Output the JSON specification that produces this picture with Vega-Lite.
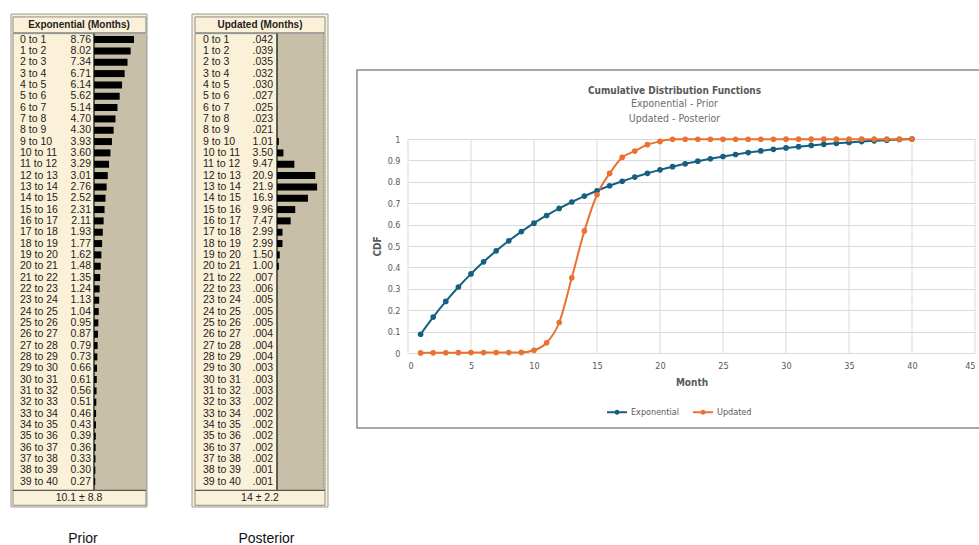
{
  "$schema": "https://vega.github.io/schema/vega-lite/v6.json",
  "background": "white",
  "padding": {"left": 10, "top": 9, "right": 0, "bottom": 0},
  "bounds": "flush",
  "spacing": 45,
  "resolve": {"scale": {"x": "independent", "y": "independent", "color": "independent"}, "axis": {"x": "independent", "y": "independent"}},
  "config": {"font": "Liberation Sans", "axis": {"grid": false}, "view": {"stroke": null}},
  "datasets": {
    "prior": [
      {"i": 0, "label": "0 to 1", "val": "8.76", "v": 8.76},
      {"i": 1, "label": "1 to 2", "val": "8.02", "v": 8.02},
      {"i": 2, "label": "2 to 3", "val": "7.34", "v": 7.34},
      {"i": 3, "label": "3 to 4", "val": "6.71", "v": 6.71},
      {"i": 4, "label": "4 to 5", "val": "6.14", "v": 6.14},
      {"i": 5, "label": "5 to 6", "val": "5.62", "v": 5.62},
      {"i": 6, "label": "6 to 7", "val": "5.14", "v": 5.14},
      {"i": 7, "label": "7 to 8", "val": "4.70", "v": 4.70},
      {"i": 8, "label": "8 to 9", "val": "4.30", "v": 4.30},
      {"i": 9, "label": "9 to 10", "val": "3.93", "v": 3.93},
      {"i": 10, "label": "10 to 11", "val": "3.60", "v": 3.60},
      {"i": 11, "label": "11 to 12", "val": "3.29", "v": 3.29},
      {"i": 12, "label": "12 to 13", "val": "3.01", "v": 3.01},
      {"i": 13, "label": "13 to 14", "val": "2.76", "v": 2.76},
      {"i": 14, "label": "14 to 15", "val": "2.52", "v": 2.52},
      {"i": 15, "label": "15 to 16", "val": "2.31", "v": 2.31},
      {"i": 16, "label": "16 to 17", "val": "2.11", "v": 2.11},
      {"i": 17, "label": "17 to 18", "val": "1.93", "v": 1.93},
      {"i": 18, "label": "18 to 19", "val": "1.77", "v": 1.77},
      {"i": 19, "label": "19 to 20", "val": "1.62", "v": 1.62},
      {"i": 20, "label": "20 to 21", "val": "1.48", "v": 1.48},
      {"i": 21, "label": "21 to 22", "val": "1.35", "v": 1.35},
      {"i": 22, "label": "22 to 23", "val": "1.24", "v": 1.24},
      {"i": 23, "label": "23 to 24", "val": "1.13", "v": 1.13},
      {"i": 24, "label": "24 to 25", "val": "1.04", "v": 1.04},
      {"i": 25, "label": "25 to 26", "val": "0.95", "v": 0.95},
      {"i": 26, "label": "26 to 27", "val": "0.87", "v": 0.87},
      {"i": 27, "label": "27 to 28", "val": "0.79", "v": 0.79},
      {"i": 28, "label": "28 to 29", "val": "0.73", "v": 0.73},
      {"i": 29, "label": "29 to 30", "val": "0.66", "v": 0.66},
      {"i": 30, "label": "30 to 31", "val": "0.61", "v": 0.61},
      {"i": 31, "label": "31 to 32", "val": "0.56", "v": 0.56},
      {"i": 32, "label": "32 to 33", "val": "0.51", "v": 0.51},
      {"i": 33, "label": "33 to 34", "val": "0.46", "v": 0.46},
      {"i": 34, "label": "34 to 35", "val": "0.43", "v": 0.43},
      {"i": 35, "label": "35 to 36", "val": "0.39", "v": 0.39},
      {"i": 36, "label": "36 to 37", "val": "0.36", "v": 0.36},
      {"i": 37, "label": "37 to 38", "val": "0.33", "v": 0.33},
      {"i": 38, "label": "38 to 39", "val": "0.30", "v": 0.30},
      {"i": 39, "label": "39 to 40", "val": "0.27", "v": 0.27}
    ],
    "post": [
      {"i": 0, "label": "0 to 1", "val": ".042", "v": 0.042},
      {"i": 1, "label": "1 to 2", "val": ".039", "v": 0.039},
      {"i": 2, "label": "2 to 3", "val": ".035", "v": 0.035},
      {"i": 3, "label": "3 to 4", "val": ".032", "v": 0.032},
      {"i": 4, "label": "4 to 5", "val": ".030", "v": 0.030},
      {"i": 5, "label": "5 to 6", "val": ".027", "v": 0.027},
      {"i": 6, "label": "6 to 7", "val": ".025", "v": 0.025},
      {"i": 7, "label": "7 to 8", "val": ".023", "v": 0.023},
      {"i": 8, "label": "8 to 9", "val": ".021", "v": 0.021},
      {"i": 9, "label": "9 to 10", "val": "1.01", "v": 1.01},
      {"i": 10, "label": "10 to 11", "val": "3.50", "v": 3.50},
      {"i": 11, "label": "11 to 12", "val": "9.47", "v": 9.47},
      {"i": 12, "label": "12 to 13", "val": "20.9", "v": 20.9},
      {"i": 13, "label": "13 to 14", "val": "21.9", "v": 21.9},
      {"i": 14, "label": "14 to 15", "val": "16.9", "v": 16.9},
      {"i": 15, "label": "15 to 16", "val": "9.96", "v": 9.96},
      {"i": 16, "label": "16 to 17", "val": "7.47", "v": 7.47},
      {"i": 17, "label": "17 to 18", "val": "2.99", "v": 2.99},
      {"i": 18, "label": "18 to 19", "val": "2.99", "v": 2.99},
      {"i": 19, "label": "19 to 20", "val": "1.50", "v": 1.50},
      {"i": 20, "label": "20 to 21", "val": "1.00", "v": 1.00},
      {"i": 21, "label": "21 to 22", "val": ".007", "v": 0.007},
      {"i": 22, "label": "22 to 23", "val": ".006", "v": 0.006},
      {"i": 23, "label": "23 to 24", "val": ".005", "v": 0.005},
      {"i": 24, "label": "24 to 25", "val": ".005", "v": 0.005},
      {"i": 25, "label": "25 to 26", "val": ".005", "v": 0.005},
      {"i": 26, "label": "26 to 27", "val": ".004", "v": 0.004},
      {"i": 27, "label": "27 to 28", "val": ".004", "v": 0.004},
      {"i": 28, "label": "28 to 29", "val": ".004", "v": 0.004},
      {"i": 29, "label": "29 to 30", "val": ".003", "v": 0.003},
      {"i": 30, "label": "30 to 31", "val": ".003", "v": 0.003},
      {"i": 31, "label": "31 to 32", "val": ".003", "v": 0.003},
      {"i": 32, "label": "32 to 33", "val": ".002", "v": 0.002},
      {"i": 33, "label": "33 to 34", "val": ".002", "v": 0.002},
      {"i": 34, "label": "34 to 35", "val": ".002", "v": 0.002},
      {"i": 35, "label": "35 to 36", "val": ".002", "v": 0.002},
      {"i": 36, "label": "36 to 37", "val": ".002", "v": 0.002},
      {"i": 37, "label": "37 to 38", "val": ".002", "v": 0.002},
      {"i": 38, "label": "38 to 39", "val": ".001", "v": 0.001},
      {"i": 39, "label": "39 to 40", "val": ".001", "v": 0.001}
    ],
    "grid": [{"m": 0}, {"m": 5}, {"m": 10}, {"m": 15}, {"m": 20}, {"m": 25}, {"m": 30}, {"m": 35}, {"m": 40}, {"m": 45}],
    "cdf": [
      {"month": 1, "series": "Exponential", "cdf": 0.0876},
      {"month": 2, "series": "Exponential", "cdf": 0.1678},
      {"month": 3, "series": "Exponential", "cdf": 0.2412},
      {"month": 4, "series": "Exponential", "cdf": 0.3083},
      {"month": 5, "series": "Exponential", "cdf": 0.3697},
      {"month": 6, "series": "Exponential", "cdf": 0.4259},
      {"month": 7, "series": "Exponential", "cdf": 0.4773},
      {"month": 8, "series": "Exponential", "cdf": 0.5243},
      {"month": 9, "series": "Exponential", "cdf": 0.5673},
      {"month": 10, "series": "Exponential", "cdf": 0.6066},
      {"month": 11, "series": "Exponential", "cdf": 0.6426},
      {"month": 12, "series": "Exponential", "cdf": 0.6755},
      {"month": 13, "series": "Exponential", "cdf": 0.7056},
      {"month": 14, "series": "Exponential", "cdf": 0.7332},
      {"month": 15, "series": "Exponential", "cdf": 0.7584},
      {"month": 16, "series": "Exponential", "cdf": 0.7815},
      {"month": 17, "series": "Exponential", "cdf": 0.8026},
      {"month": 18, "series": "Exponential", "cdf": 0.8219},
      {"month": 19, "series": "Exponential", "cdf": 0.8396},
      {"month": 20, "series": "Exponential", "cdf": 0.8558},
      {"month": 21, "series": "Exponential", "cdf": 0.8706},
      {"month": 22, "series": "Exponential", "cdf": 0.8841},
      {"month": 23, "series": "Exponential", "cdf": 0.8965},
      {"month": 24, "series": "Exponential", "cdf": 0.9078},
      {"month": 25, "series": "Exponential", "cdf": 0.9182},
      {"month": 26, "series": "Exponential", "cdf": 0.9277},
      {"month": 27, "series": "Exponential", "cdf": 0.9364},
      {"month": 28, "series": "Exponential", "cdf": 0.9443},
      {"month": 29, "series": "Exponential", "cdf": 0.9516},
      {"month": 30, "series": "Exponential", "cdf": 0.9582},
      {"month": 31, "series": "Exponential", "cdf": 0.9643},
      {"month": 32, "series": "Exponential", "cdf": 0.9699},
      {"month": 33, "series": "Exponential", "cdf": 0.9750},
      {"month": 34, "series": "Exponential", "cdf": 0.9796},
      {"month": 35, "series": "Exponential", "cdf": 0.9839},
      {"month": 36, "series": "Exponential", "cdf": 0.9878},
      {"month": 37, "series": "Exponential", "cdf": 0.9914},
      {"month": 38, "series": "Exponential", "cdf": 0.9947},
      {"month": 39, "series": "Exponential", "cdf": 0.9977},
      {"month": 40, "series": "Exponential", "cdf": 1.0},
      {"month": 1, "series": "Updated", "cdf": 0.0004},
      {"month": 2, "series": "Updated", "cdf": 0.0008},
      {"month": 3, "series": "Updated", "cdf": 0.0012},
      {"month": 4, "series": "Updated", "cdf": 0.0015},
      {"month": 5, "series": "Updated", "cdf": 0.0018},
      {"month": 6, "series": "Updated", "cdf": 0.0021},
      {"month": 7, "series": "Updated", "cdf": 0.0023},
      {"month": 8, "series": "Updated", "cdf": 0.0025},
      {"month": 9, "series": "Updated", "cdf": 0.0027},
      {"month": 10, "series": "Updated", "cdf": 0.0128},
      {"month": 11, "series": "Updated", "cdf": 0.0478},
      {"month": 12, "series": "Updated", "cdf": 0.1425},
      {"month": 13, "series": "Updated", "cdf": 0.3515},
      {"month": 14, "series": "Updated", "cdf": 0.5705},
      {"month": 15, "series": "Updated", "cdf": 0.7395},
      {"month": 16, "series": "Updated", "cdf": 0.8391},
      {"month": 17, "series": "Updated", "cdf": 0.9138},
      {"month": 18, "series": "Updated", "cdf": 0.9437},
      {"month": 19, "series": "Updated", "cdf": 0.9736},
      {"month": 20, "series": "Updated", "cdf": 0.9886},
      {"month": 21, "series": "Updated", "cdf": 0.9986},
      {"month": 22, "series": "Updated", "cdf": 0.9987},
      {"month": 23, "series": "Updated", "cdf": 0.9988},
      {"month": 24, "series": "Updated", "cdf": 0.9988},
      {"month": 25, "series": "Updated", "cdf": 0.9989},
      {"month": 26, "series": "Updated", "cdf": 0.9989},
      {"month": 27, "series": "Updated", "cdf": 0.9990},
      {"month": 28, "series": "Updated", "cdf": 0.9990},
      {"month": 29, "series": "Updated", "cdf": 0.9990},
      {"month": 30, "series": "Updated", "cdf": 0.9991},
      {"month": 31, "series": "Updated", "cdf": 0.9991},
      {"month": 32, "series": "Updated", "cdf": 0.9991},
      {"month": 33, "series": "Updated", "cdf": 0.9992},
      {"month": 34, "series": "Updated", "cdf": 0.9992},
      {"month": 35, "series": "Updated", "cdf": 0.9992},
      {"month": 36, "series": "Updated", "cdf": 0.9992},
      {"month": 37, "series": "Updated", "cdf": 0.9992},
      {"month": 38, "series": "Updated", "cdf": 0.9993},
      {"month": 39, "series": "Updated", "cdf": 0.9993},
      {"month": 40, "series": "Updated", "cdf": 0.9993}
    ]
  },
  "hconcat": [
    {
      "width": 136,
      "height": 503,
      "data": {"name": "prior"},
      "title": {"text": "Prior", "orient": "bottom", "anchor": "middle", "frame": "group", "offset": 20, "dx": 4, "font": "Liberation Sans", "fontSize": 14, "fontWeight": "normal", "color": "#111111"},
      "layer": [
        {
          "data": {"values": [{}]},
          "mark": {"type": "rect", "fill": "#FBF1D8", "stroke": "#9a9a9a", "strokeWidth": 1},
          "encoding": {
            "x": {"datum": -18.16, "type": "quantitative", "scale": {"domain": [-18.16, 11.6], "nice": false, "zero": false}, "axis": null},
            "x2": {"datum": 11.6},
            "y": {"datum": -2.26, "type": "quantitative", "scale": {"domain": [-2.26, 41.25], "nice": false, "zero": false, "reverse": true}, "axis": null},
            "y2": {"datum": 41.25}
          }
        },
        {
          "data": {"values": [{}]},
          "mark": {"type": "rect", "fill": "#FBF1D8", "stroke": "#8c8c8c", "strokeWidth": 1},
          "encoding": {
            "x": {"datum": -17.72, "type": "quantitative", "scale": {"domain": [-18.16, 11.6], "nice": false, "zero": false}, "axis": null},
            "x2": {"datum": 11.38},
            "y": {"datum": -0.53, "type": "quantitative", "scale": {"domain": [-2.26, 41.25], "nice": false, "zero": false, "reverse": true}, "axis": null},
            "y2": {"datum": 41.1}
          }
        },
        {
          "data": {"values": [{}]},
          "mark": {"type": "rect", "fill": "#C8BFA8"},
          "encoding": {
            "x": {"datum": 0, "type": "quantitative", "scale": {"domain": [-18.16, 11.6], "nice": false, "zero": false}, "axis": null},
            "x2": {"datum": 11.38},
            "y": {"datum": -0.53, "type": "quantitative", "scale": {"domain": [-2.26, 41.25], "nice": false, "zero": false, "reverse": true}, "axis": null},
            "y2": {"datum": 39.78}
          }
        },
        {
          "data": {"values": [{}]},
          "mark": {"type": "rect", "fill": "#FBF1D8", "stroke": "#8c8c8c", "strokeWidth": 1},
          "encoding": {
            "x": {"datum": -17.72, "type": "quantitative", "scale": {"domain": [-18.16, 11.6], "nice": false, "zero": false}, "axis": null},
            "x2": {"datum": 11.38},
            "y": {"datum": -2.0, "type": "quantitative", "scale": {"domain": [-2.26, 41.25], "nice": false, "zero": false, "reverse": true}, "axis": null},
            "y2": {"datum": -0.61}
          }
        },
        {
          "data": {"values": [{}]},
          "mark": {"type": "rule", "color": "#333333", "strokeWidth": 1.5},
          "encoding": {
            "x": {"datum": 0, "type": "quantitative", "scale": {"domain": [-18.16, 11.6], "nice": false, "zero": false}, "axis": null},
            "y": {"datum": -0.53, "type": "quantitative", "scale": {"domain": [-2.26, 41.25], "nice": false, "zero": false, "reverse": true}, "axis": null},
            "y2": {"datum": 39.78}
          }
        },
        {
          "data": {"values": [{}]},
          "mark": {"type": "rule", "color": "#555555", "strokeWidth": 1.2},
          "encoding": {
            "x": {"datum": -17.72, "type": "quantitative", "scale": {"domain": [-18.16, 11.6], "nice": false, "zero": false}, "axis": null},
            "x2": {"datum": 11.38},
            "y": {"datum": 39.78, "type": "quantitative", "scale": {"domain": [-2.26, 41.25], "nice": false, "zero": false, "reverse": true}, "axis": null}
          }
        },
        {
          "data": {"values": [{}]},
          "mark": {"type": "text", "text": "Exponential (Months)", "fontWeight": "bold", "fontSize": 10, "color": "#222222", "align": "center", "baseline": "middle"},
          "encoding": {
            "x": {"datum": -3.28, "type": "quantitative", "scale": {"domain": [-18.16, 11.6], "nice": false, "zero": false}, "axis": null},
            "y": {"datum": -1.3, "type": "quantitative", "scale": {"domain": [-2.26, 41.25], "nice": false, "zero": false, "reverse": true}, "axis": null}
          }
        },
        {
          "data": {"values": [{}]},
          "mark": {"type": "text", "text": "10.1 ± 8.8", "fontSize": 10.5, "color": "#222222", "align": "center", "baseline": "middle"},
          "encoding": {
            "x": {"datum": -3.28, "type": "quantitative", "scale": {"domain": [-18.16, 11.6], "nice": false, "zero": false}, "axis": null},
            "y": {"datum": 40.47, "type": "quantitative", "scale": {"domain": [-2.26, 41.25], "nice": false, "zero": false, "reverse": true}, "axis": null}
          }
        },
        {
          "mark": {"type": "bar", "orient": "horizontal", "size": 7, "color": "#000000"},
          "encoding": {
            "x": {"field": "v", "type": "quantitative", "scale": {"domain": [-18.16, 11.6], "nice": false, "zero": false}, "axis": null},
            "x2": {"datum": 0},
            "y": {"field": "i", "type": "quantitative", "scale": {"domain": [-2.26, 41.25], "nice": false, "zero": false, "reverse": true}, "axis": null}
          }
        },
        {
          "mark": {"type": "text", "align": "left", "baseline": "middle", "fontSize": 10.5, "color": "#222222"},
          "encoding": {
            "x": {"datum": -16.19, "type": "quantitative", "scale": {"domain": [-18.16, 11.6], "nice": false, "zero": false}, "axis": null},
            "y": {"field": "i", "type": "quantitative", "scale": {"domain": [-2.26, 41.25], "nice": false, "zero": false, "reverse": true}, "axis": null},
            "text": {"field": "label"}
          }
        },
        {
          "mark": {"type": "text", "align": "right", "baseline": "middle", "fontSize": 10.5, "color": "#222222"},
          "encoding": {
            "x": {"datum": -0.66, "type": "quantitative", "scale": {"domain": [-18.16, 11.6], "nice": false, "zero": false}, "axis": null},
            "y": {"field": "i", "type": "quantitative", "scale": {"domain": [-2.26, 41.25], "nice": false, "zero": false, "reverse": true}, "axis": null},
            "text": {"field": "val"}
          }
        }
      ]
    },
    {
      "width": 171,
      "height": 503,
      "data": {"name": "post"},
      "title": {"text": "Posterior", "orient": "bottom", "anchor": "middle", "frame": "group", "offset": 20, "dx": -11, "font": "Liberation Sans", "fontSize": 14, "fontWeight": "normal", "color": "#111111"},
      "layer": [
        {
          "data": {"values": [{}]},
          "mark": {"type": "rect", "fill": "#FBF1D8", "stroke": "#9a9a9a", "strokeWidth": 1},
          "encoding": {
            "x": {"datum": -46.45, "type": "quantitative", "scale": {"domain": [-46.45, 46.99], "nice": false, "zero": false}, "axis": null},
            "x2": {"datum": 27.87},
            "y": {"datum": -2.26, "type": "quantitative", "scale": {"domain": [-2.26, 41.25], "nice": false, "zero": false, "reverse": true}, "axis": null},
            "y2": {"datum": 41.25}
          }
        },
        {
          "data": {"values": [{}]},
          "mark": {"type": "rect", "fill": "#FBF1D8", "stroke": "#8c8c8c", "strokeWidth": 1},
          "encoding": {
            "x": {"datum": -44.81, "type": "quantitative", "scale": {"domain": [-46.45, 46.99], "nice": false, "zero": false}, "axis": null},
            "x2": {"datum": 26.23},
            "y": {"datum": -0.53, "type": "quantitative", "scale": {"domain": [-2.26, 41.25], "nice": false, "zero": false, "reverse": true}, "axis": null},
            "y2": {"datum": 41.1}
          }
        },
        {
          "data": {"values": [{}]},
          "mark": {"type": "rect", "fill": "#C8BFA8"},
          "encoding": {
            "x": {"datum": 0, "type": "quantitative", "scale": {"domain": [-46.45, 46.99], "nice": false, "zero": false}, "axis": null},
            "x2": {"datum": 26.23},
            "y": {"datum": -0.53, "type": "quantitative", "scale": {"domain": [-2.26, 41.25], "nice": false, "zero": false, "reverse": true}, "axis": null},
            "y2": {"datum": 39.78}
          }
        },
        {
          "data": {"values": [{}]},
          "mark": {"type": "rule", "color": "#777777", "strokeWidth": 1, "strokeDash": [1, 2]},
          "encoding": {
            "x": {"datum": 25.4, "type": "quantitative", "scale": {"domain": [-46.45, 46.99], "nice": false, "zero": false}, "axis": null},
            "y": {"datum": -0.53, "type": "quantitative", "scale": {"domain": [-2.26, 41.25], "nice": false, "zero": false, "reverse": true}, "axis": null},
            "y2": {"datum": 39.78}
          }
        },
        {
          "data": {"values": [{}]},
          "mark": {"type": "rect", "fill": "#FBF1D8", "stroke": "#8c8c8c", "strokeWidth": 1},
          "encoding": {
            "x": {"datum": -44.81, "type": "quantitative", "scale": {"domain": [-46.45, 46.99], "nice": false, "zero": false}, "axis": null},
            "x2": {"datum": 26.23},
            "y": {"datum": -2.0, "type": "quantitative", "scale": {"domain": [-2.26, 41.25], "nice": false, "zero": false, "reverse": true}, "axis": null},
            "y2": {"datum": -0.61}
          }
        },
        {
          "data": {"values": [{}]},
          "mark": {"type": "rule", "color": "#333333", "strokeWidth": 1.5},
          "encoding": {
            "x": {"datum": 0, "type": "quantitative", "scale": {"domain": [-46.45, 46.99], "nice": false, "zero": false}, "axis": null},
            "y": {"datum": -0.53, "type": "quantitative", "scale": {"domain": [-2.26, 41.25], "nice": false, "zero": false, "reverse": true}, "axis": null},
            "y2": {"datum": 39.78}
          }
        },
        {
          "data": {"values": [{}]},
          "mark": {"type": "rule", "color": "#555555", "strokeWidth": 1.2},
          "encoding": {
            "x": {"datum": -44.81, "type": "quantitative", "scale": {"domain": [-46.45, 46.99], "nice": false, "zero": false}, "axis": null},
            "x2": {"datum": 26.23},
            "y": {"datum": 39.78, "type": "quantitative", "scale": {"domain": [-2.26, 41.25], "nice": false, "zero": false, "reverse": true}, "axis": null}
          }
        },
        {
          "data": {"values": [{}]},
          "mark": {"type": "text", "text": "Updated (Months)", "fontWeight": "bold", "fontSize": 10, "color": "#222222", "align": "center", "baseline": "middle"},
          "encoding": {
            "x": {"datum": -9.29, "type": "quantitative", "scale": {"domain": [-46.45, 46.99], "nice": false, "zero": false}, "axis": null},
            "y": {"datum": -1.3, "type": "quantitative", "scale": {"domain": [-2.26, 41.25], "nice": false, "zero": false, "reverse": true}, "axis": null}
          }
        },
        {
          "data": {"values": [{}]},
          "mark": {"type": "text", "text": "14 ± 2.2", "fontSize": 10.5, "color": "#222222", "align": "center", "baseline": "middle"},
          "encoding": {
            "x": {"datum": -9.29, "type": "quantitative", "scale": {"domain": [-46.45, 46.99], "nice": false, "zero": false}, "axis": null},
            "y": {"datum": 40.47, "type": "quantitative", "scale": {"domain": [-2.26, 41.25], "nice": false, "zero": false, "reverse": true}, "axis": null}
          }
        },
        {
          "mark": {"type": "bar", "orient": "horizontal", "size": 7, "color": "#000000"},
          "encoding": {
            "x": {"field": "v", "type": "quantitative", "scale": {"domain": [-46.45, 46.99], "nice": false, "zero": false}, "axis": null},
            "x2": {"datum": 0},
            "y": {"field": "i", "type": "quantitative", "scale": {"domain": [-2.26, 41.25], "nice": false, "zero": false, "reverse": true}, "axis": null}
          }
        },
        {
          "mark": {"type": "text", "align": "left", "baseline": "middle", "fontSize": 10.5, "color": "#222222"},
          "encoding": {
            "x": {"datum": -40.44, "type": "quantitative", "scale": {"domain": [-46.45, 46.99], "nice": false, "zero": false}, "axis": null},
            "y": {"field": "i", "type": "quantitative", "scale": {"domain": [-2.26, 41.25], "nice": false, "zero": false, "reverse": true}, "axis": null},
            "text": {"field": "label"}
          }
        },
        {
          "mark": {"type": "text", "align": "right", "baseline": "middle", "fontSize": 10.5, "color": "#222222"},
          "encoding": {
            "x": {"datum": -2.19, "type": "quantitative", "scale": {"domain": [-46.45, 46.99], "nice": false, "zero": false}, "axis": null},
            "y": {"field": "i", "type": "quantitative", "scale": {"domain": [-2.26, 41.25], "nice": false, "zero": false, "reverse": true}, "axis": null},
            "text": {"field": "val"}
          }
        }
      ]
    },
    {
      "width": 567,
      "height": 344,
      "title": {
        "text": "Cumulative Distribution Functions",
        "subtitle": ["Exponential - Prior", "Updated - Posterior"],
        "anchor": "middle",
        "frame": "group",
        "offset": -115,
        "dx": -17,
        "font": "Liberation Sans Narrow, DejaVu Sans Condensed, sans-serif",
        "fontSize": 10,
        "fontWeight": "bold",
        "color": "#595959",
        "subtitleFont": "Liberation Sans Narrow, DejaVu Sans Condensed, sans-serif",
        "subtitleFontSize": 10.5,
        "subtitleColor": "#6e6e6e",
        "subtitlePadding": 3,
        "subtitleLineHeight": 15
      },
      "layer": [
        {
          "data": {"values": [{}]},
          "mark": {"type": "rect", "fill": null, "stroke": "#8c8c8c", "strokeWidth": 1.5, "clip": false},
          "encoding": {
            "x": {"datum": -4.05, "type": "quantitative", "scale": {"domain": [0, 45], "nice": false, "zero": false},
              "axis": {"values": [0, 5, 10, 15, 20, 25, 30, 35, 40, 45], "grid": false, "domain": false, "ticks": false, "labelFont": "Liberation Sans Narrow, DejaVu Sans Condensed, sans-serif", "labelFontSize": 9, "labelColor": "#595959", "labelPadding": 8, "title": "Month", "titleFont": "Liberation Sans Narrow, DejaVu Sans Condensed, sans-serif", "titleFontSize": 10, "titleFontWeight": "bold", "titleColor": "#595959", "titlePadding": 7}},
            "x2": {"datum": 46.3},
            "y": {"datum": -0.3505, "type": "quantitative", "scale": {"domain": [0, 1.6075], "nice": false, "zero": false},
              "axis": {"values": [0, 0.1, 0.2, 0.3, 0.4, 0.5, 0.6, 0.7, 0.8, 0.9, 1], "format": "~g", "grid": true, "gridColor": "#d9d9d9", "gridWidth": 1, "domain": false, "ticks": false, "labelFont": "Liberation Sans Narrow, DejaVu Sans Condensed, sans-serif", "labelFontSize": 9, "labelColor": "#595959", "labelPadding": 8, "title": "CDF", "titleFont": "Liberation Sans Narrow, DejaVu Sans Condensed, sans-serif", "titleFontSize": 10, "titleFontWeight": "bold", "titleColor": "#595959", "titleX": -26, "titleY": 237}},
            "y2": {"datum": 1.3224}
          }
        },
        {
          "data": {"name": "grid"},
          "mark": {"type": "rule", "color": "#d9d9d9", "strokeWidth": 1},
          "encoding": {
            "x": {"field": "m", "type": "quantitative", "scale": {"domain": [0, 45], "nice": false, "zero": false},
              "axis": {"values": [0, 5, 10, 15, 20, 25, 30, 35, 40, 45], "grid": false, "domain": false, "ticks": false, "labelFont": "Liberation Sans Narrow, DejaVu Sans Condensed, sans-serif", "labelFontSize": 9, "labelColor": "#595959", "labelPadding": 8, "title": "Month", "titleFont": "Liberation Sans Narrow, DejaVu Sans Condensed, sans-serif", "titleFontSize": 10, "titleFontWeight": "bold", "titleColor": "#595959", "titlePadding": 7}},
            "y": {"datum": 0, "type": "quantitative", "scale": {"domain": [0, 1.6075], "nice": false, "zero": false},
              "axis": {"values": [0, 0.1, 0.2, 0.3, 0.4, 0.5, 0.6, 0.7, 0.8, 0.9, 1], "format": "~g", "grid": true, "gridColor": "#d9d9d9", "gridWidth": 1, "domain": false, "ticks": false, "labelFont": "Liberation Sans Narrow, DejaVu Sans Condensed, sans-serif", "labelFontSize": 9, "labelColor": "#595959", "labelPadding": 8, "title": "CDF", "titleFont": "Liberation Sans Narrow, DejaVu Sans Condensed, sans-serif", "titleFontSize": 10, "titleFontWeight": "bold", "titleColor": "#595959", "titleX": -26, "titleY": 237}},
            "y2": {"datum": 1}
          }
        },
        {
          "data": {"name": "cdf"},
          "mark": {"type": "line", "strokeWidth": 2, "interpolate": "monotone", "clip": false},
          "encoding": {
            "x": {"field": "month", "type": "quantitative", "scale": {"domain": [0, 45], "nice": false, "zero": false},
              "axis": {"values": [0, 5, 10, 15, 20, 25, 30, 35, 40, 45], "grid": false, "domain": false, "ticks": false, "labelFont": "Liberation Sans Narrow, DejaVu Sans Condensed, sans-serif", "labelFontSize": 9, "labelColor": "#595959", "labelPadding": 8, "title": "Month", "titleFont": "Liberation Sans Narrow, DejaVu Sans Condensed, sans-serif", "titleFontSize": 10, "titleFontWeight": "bold", "titleColor": "#595959", "titlePadding": 7}},
            "y": {"field": "cdf", "type": "quantitative", "scale": {"domain": [0, 1.6075], "nice": false, "zero": false},
              "axis": {"values": [0, 0.1, 0.2, 0.3, 0.4, 0.5, 0.6, 0.7, 0.8, 0.9, 1], "format": "~g", "grid": true, "gridColor": "#d9d9d9", "gridWidth": 1, "domain": false, "ticks": false, "labelFont": "Liberation Sans Narrow, DejaVu Sans Condensed, sans-serif", "labelFontSize": 9, "labelColor": "#595959", "labelPadding": 8, "title": "CDF", "titleFont": "Liberation Sans Narrow, DejaVu Sans Condensed, sans-serif", "titleFontSize": 10, "titleFontWeight": "bold", "titleColor": "#595959", "titleX": -26, "titleY": 237}},
            "color": {"field": "series", "type": "nominal", "scale": {"domain": ["Exponential", "Updated"], "range": ["#156082", "#E97132"]},
              "legend": {"orient": "none", "legendX": 198, "legendY": 392, "direction": "horizontal", "title": null, "symbolType": "M-1,0L1,0M0.15,0A0.15,0.15,0,1,1,-0.15,0A0.15,0.15,0,1,1,0.15,0Z", "symbolSize": 400, "symbolStrokeWidth": 2, "labelFont": "Liberation Sans Narrow, DejaVu Sans Condensed, sans-serif", "labelFontSize": 9, "labelColor": "#595959", "labelOffset": 3, "columnPadding": 10}}
          }
        },
        {
          "data": {"name": "cdf"},
          "mark": {"type": "point", "shape": "circle", "filled": true, "opacity": 1, "size": 32, "clip": false},
          "encoding": {
            "x": {"field": "month", "type": "quantitative", "scale": {"domain": [0, 45], "nice": false, "zero": false},
              "axis": {"values": [0, 5, 10, 15, 20, 25, 30, 35, 40, 45], "grid": false, "domain": false, "ticks": false, "labelFont": "Liberation Sans Narrow, DejaVu Sans Condensed, sans-serif", "labelFontSize": 9, "labelColor": "#595959", "labelPadding": 8, "title": "Month", "titleFont": "Liberation Sans Narrow, DejaVu Sans Condensed, sans-serif", "titleFontSize": 10, "titleFontWeight": "bold", "titleColor": "#595959", "titlePadding": 7}},
            "y": {"field": "cdf", "type": "quantitative", "scale": {"domain": [0, 1.6075], "nice": false, "zero": false},
              "axis": {"values": [0, 0.1, 0.2, 0.3, 0.4, 0.5, 0.6, 0.7, 0.8, 0.9, 1], "format": "~g", "grid": true, "gridColor": "#d9d9d9", "gridWidth": 1, "domain": false, "ticks": false, "labelFont": "Liberation Sans Narrow, DejaVu Sans Condensed, sans-serif", "labelFontSize": 9, "labelColor": "#595959", "labelPadding": 8, "title": "CDF", "titleFont": "Liberation Sans Narrow, DejaVu Sans Condensed, sans-serif", "titleFontSize": 10, "titleFontWeight": "bold", "titleColor": "#595959", "titleX": -26, "titleY": 237}},
            "color": {"field": "series", "type": "nominal", "scale": {"domain": ["Exponential", "Updated"], "range": ["#156082", "#E97132"]}, "legend": null}
          }
        }
      ]
    }
  ]
}
